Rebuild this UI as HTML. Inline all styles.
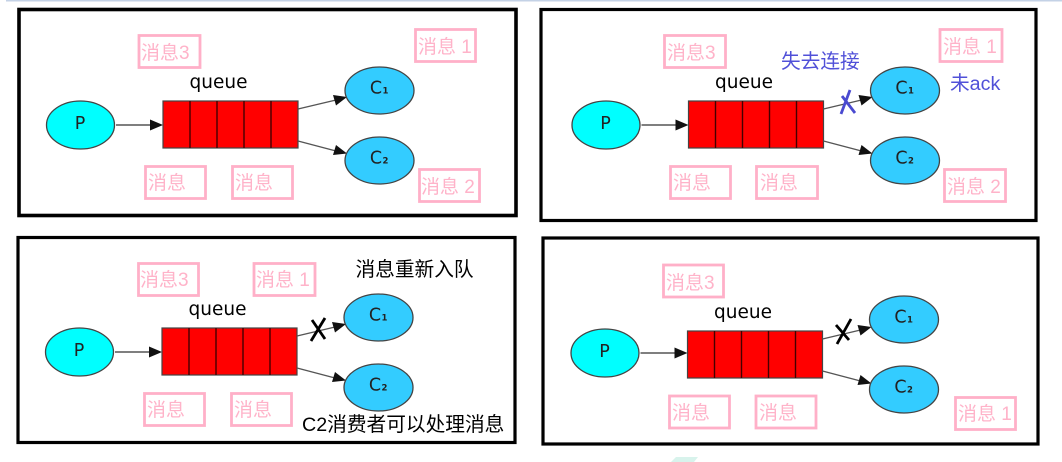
<!DOCTYPE html>
<html>
<head>
<meta charset="utf-8">
<style>
html,body{margin:0;padding:0;background:#fff;}
svg{display:block;filter:blur(0.35px);}
.f{fill:#fff;stroke:#000;stroke-width:3.2;}
.p{fill:#0ff;stroke:#444;stroke-width:1.3;}
.c{fill:#3cf;stroke:#444;stroke-width:1.3;}
.q{fill:#f00;stroke:#444;stroke-width:1.2;}
.d{stroke:#400;stroke-width:1.4;}
.e{stroke:#555;stroke-width:1.4;fill:none;}
.h{fill:#111;}
.b{fill:#fff;stroke:#ffb0c8;stroke-width:2.8;}
.l{font-family:"Liberation Sans","Noto Sans CJK SC",sans-serif;font-size:19px;fill:#ffb3c9;}
.t{font-family:"DejaVu Sans",sans-serif;font-size:18.5px;fill:#000;text-anchor:middle;}
.n{font-family:"DejaVu Sans",sans-serif;font-size:17.5px;fill:#222;text-anchor:middle;}
.s{font-family:"DejaVu Sans",sans-serif;font-size:8.5px;font-weight:bold;fill:#222;text-anchor:middle;}
.u{font-family:"Liberation Sans","Noto Sans CJK SC",sans-serif;font-size:19.7px;fill:#5050d8;}
.k{font-family:"Liberation Sans","Noto Sans CJK SC",sans-serif;font-size:19.7px;fill:#000;}
</style>
</head>
<body>
<svg width="1062" height="462" viewBox="0 0 1062 462" xmlns="http://www.w3.org/2000/svg">
<rect x="6" y="0" width="1056" height="1.5" fill="#c4d2e6"/>
<polygon points="671,462 676,457 698,457 694,462" fill="#d8f3ec"/>

<!-- Panel 1 -->
<rect class="f" x="19" y="9.500" width="497" height="206" style="stroke-width:3.6"/>
<g>
<ellipse class="p" cx="80.500" cy="125" rx="34" ry="24"/>
<text class="n" x="80" y="129">P</text>
<path class="e" d="M116 125H150"/><polygon class="h" points="150,119.500 163,125 150,130.500"/>
<rect class="q" x="163" y="101" width="135" height="47"/>
<path class="d" d="M190 101V148M217 101V148M244 101V148M271 101V148"/>
<text class="t" x="218.500" y="88">queue</text>
<path class="e" d="M298 109L336 100"/><polygon class="h" points="333,95 347,97 336,105.500"/>
<path class="e" d="M298 141L336 151"/><polygon class="h" points="336,145 347,153.500 333,155"/>
<ellipse class="c" cx="379.500" cy="90.500" rx="34.500" ry="23.500"/>
<text class="n" x="376" y="93.500">C</text><text class="s" x="385.500" y="93.500">1</text>
<ellipse class="c" cx="379.500" cy="160.500" rx="34.500" ry="23.500"/>
<text class="n" x="376" y="163.500">C</text><text class="s" x="385.500" y="163.500">2</text>
</g>
<rect class="b" x="139" y="35.500" width="61" height="32"/><text class="l" x="141" y="59">消息3</text>
<rect class="b" x="415.500" y="29.500" width="60" height="32"/><text class="l" x="418" y="53">消息 1</text>
<rect class="b" x="145.500" y="166.500" width="60" height="32"/><text class="l" x="148" y="189">消息</text>
<rect class="b" x="232.500" y="166.500" width="60" height="32"/><text class="l" x="235" y="189">消息</text>
<rect class="b" x="419.500" y="169.500" width="60" height="32"/><text class="l" x="421" y="193">消息 2</text>

<!-- Panel 2 -->
<rect class="f" x="541" y="9.500" width="495" height="211"/>
<g transform="translate(525.500,0)">
<ellipse class="p" cx="80.500" cy="125" rx="34" ry="24"/>
<text class="n" x="80" y="129">P</text>
<path class="e" d="M116 125H150"/><polygon class="h" points="150,119.500 163,125 150,130.500"/>
<rect class="q" x="163" y="101" width="135" height="47"/>
<path class="d" d="M190 101V148M217 101V148M244 101V148M271 101V148"/>
<text class="t" x="218.500" y="88">queue</text>
<path class="e" d="M298 109L336 100"/><polygon class="h" points="333,95 347,97 336,105.500"/>
<path class="e" d="M298 141L336 151"/><polygon class="h" points="336,145 347,153.500 333,155"/>
<ellipse class="c" cx="379.500" cy="90.500" rx="34.500" ry="23.500"/>
<text class="n" x="376" y="93.500">C</text><text class="s" x="385.500" y="93.500">1</text>
<ellipse class="c" cx="379.500" cy="160.500" rx="34.500" ry="23.500"/>
<text class="n" x="376" y="163.500">C</text><text class="s" x="385.500" y="163.500">2</text>
</g>
<rect class="b" x="664.500" y="35.500" width="61" height="32"/><text class="l" x="667" y="59">消息3</text>
<rect class="b" x="940" y="29.500" width="62" height="32"/><text class="l" x="943" y="53">消息 1</text>
<rect class="b" x="670.500" y="166.500" width="60" height="32"/><text class="l" x="673" y="189">消息</text>
<rect class="b" x="756.500" y="166.500" width="61" height="32"/><text class="l" x="760" y="189">消息</text>
<rect class="b" x="944.500" y="169.500" width="61" height="32"/><text class="l" x="947" y="193">消息 2</text>
<text class="u" x="781" y="68">失去连接</text>
<text class="u" x="950" y="90">未ack</text>
<path d="M841 114L850 90M842 96L855 113" stroke="#4a4ad0" stroke-width="2.800" fill="none"/>

<!-- Panel 3 -->
<rect class="f" x="18" y="237.500" width="497" height="205"/>
<g transform="translate(-1,227)">
<ellipse class="p" cx="80.500" cy="125" rx="34" ry="24"/>
<text class="n" x="80" y="129">P</text>
<path class="e" d="M116 125H150"/><polygon class="h" points="150,119.500 163,125 150,130.500"/>
<rect class="q" x="163" y="101" width="135" height="47"/>
<path class="d" d="M190 101V148M217 101V148M244 101V148M271 101V148"/>
<text class="t" x="218.500" y="88">queue</text>
<path class="e" d="M298 109L336 100"/><polygon class="h" points="333,95 347,97 336,105.500"/>
<path class="e" d="M298 141L336 151"/><polygon class="h" points="336,145 347,153.500 333,155"/>
<ellipse class="c" cx="379.500" cy="90.500" rx="34.500" ry="23.500"/>
<text class="n" x="376" y="93.500">C</text><text class="s" x="385.500" y="93.500">1</text>
<ellipse class="c" cx="379.500" cy="160.500" rx="34.500" ry="23.500"/>
<text class="n" x="376" y="163.500">C</text><text class="s" x="385.500" y="163.500">2</text>
</g>
<rect class="b" x="138.500" y="263.500" width="60" height="32"/><text class="l" x="140" y="286">消息3</text>
<rect class="b" x="254" y="263.500" width="61" height="32"/><text class="l" x="256" y="286">消息 1</text>
<rect class="b" x="144.500" y="393.500" width="60" height="32"/><text class="l" x="147" y="416">消息</text>
<rect class="b" x="231.500" y="393.500" width="60" height="32"/><text class="l" x="234" y="416">消息</text>
<text class="k" x="355.500" y="276">消息重新入队</text>
<text class="k" x="302" y="431">C2消费者可以处理消息</text>
<path d="M311 341L325 318M312 320L325 339" stroke="#000" stroke-width="2.800" fill="none"/>

<!-- Panel 4 -->
<rect class="f" x="543" y="238" width="495" height="206"/>
<g transform="translate(524.500,231)">
<ellipse class="p" cx="80.500" cy="122" rx="34" ry="24"/>
<text class="n" x="80" y="126">P</text>
<path class="e" d="M116 122H150"/><polygon class="h" points="150,116.500 163,122 150,127.500"/>
<rect class="q" x="163" y="100" width="135" height="47"/>
<path class="d" d="M190 100V147M217 100V147M244 100V147M271 100V147"/>
<text class="t" x="218.500" y="87">queue</text>
<path class="e" d="M298 108L336 99"/><polygon class="h" points="333,94 347,96 336,104.500"/>
<path class="e" d="M298 140L336 150"/><polygon class="h" points="336,144 347,152.500 333,154"/>
<ellipse class="c" cx="379.500" cy="88.500" rx="34.500" ry="23.500"/>
<text class="n" x="376" y="91.500">C</text><text class="s" x="385.500" y="91.500">1</text>
<ellipse class="c" cx="379.500" cy="158.500" rx="34.500" ry="23.500"/>
<text class="n" x="376" y="161.500">C</text><text class="s" x="385.500" y="161.500">2</text>
</g>
<rect class="b" x="663.500" y="265" width="60" height="32"/><text class="l" x="666" y="289">消息3</text>
<rect class="b" x="669.500" y="396" width="60" height="32"/><text class="l" x="672" y="419">消息</text>
<rect class="b" x="756" y="396" width="60" height="32"/><text class="l" x="759" y="419">消息</text>
<rect class="b" x="955.500" y="397.500" width="60" height="32"/><text class="l" x="958" y="420">消息 1</text>
<path d="M837 344L851 319M836 325L849 340" stroke="#000" stroke-width="2.800" fill="none"/>
</svg>
</body>
</html>
